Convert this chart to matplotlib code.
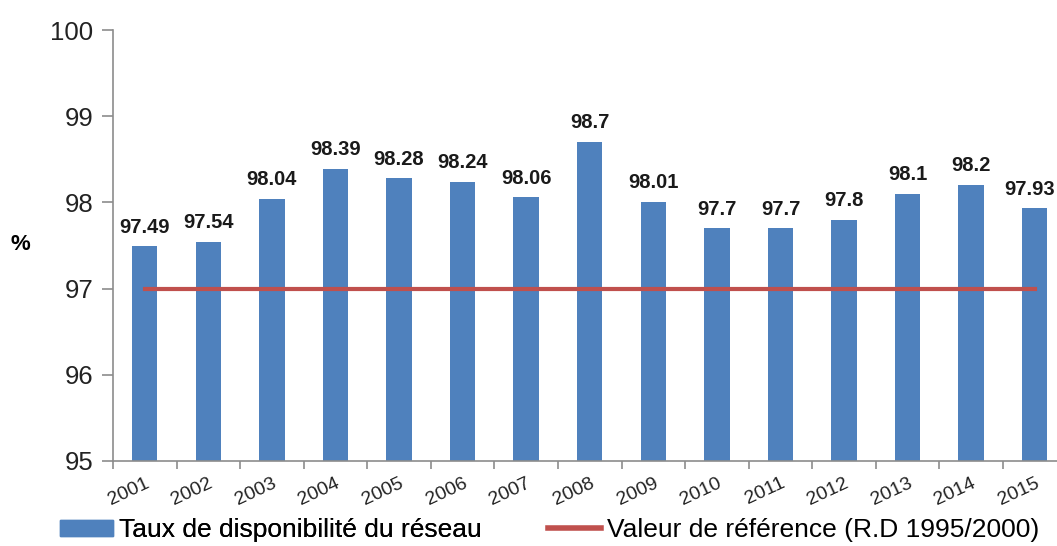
import numpy as np
import matplotlib
matplotlib.use("Agg")
import matplotlib.pyplot as plt
from matplotlib.patches import Patch
from matplotlib.lines import Line2D

plt.rcParams["font.family"] = ["Liberation Sans", "DejaVu Sans"]

years = ["2001", "2002", "2003", "2004", "2005", "2006", "2007", "2008",
         "2009", "2010", "2011", "2012", "2013", "2014", "2015"]
availability = [97.49, 97.54, 98.04, 98.39, 98.28, 98.24, 98.06, 98.7,
                98.01, 97.7, 97.7, 97.8, 98.1, 98.2, 97.93]
labels = ["97.49", "97.54", "98.04", "98.39", "98.28", "98.24", "98.06", "98.7",
          "98.01", "97.7", "97.7", "97.8", "98.1", "98.2", "97.93"]
reference = [97] * len(years)

blue = "#4F81BD"
red = "#C0504D"
grey = "#8C8C8C"

W, H = 1057, 546
fig = plt.figure(figsize=(W / 100, H / 100), dpi=100)
ax = fig.add_axes([113 / W, 1 - 461 / H, 944 / W, 431 / H])

ind = np.arange(len(years))
ax.bar(ind, np.array(availability) - 95, width=0.4, bottom=95, color=blue, zorder=2)
ax.plot(ind, reference, color=red, linewidth=3, zorder=3)

for i, (x, v, s) in enumerate(zip(ind, availability, labels)):
    # keep the last label inside the picture, as the spreadsheet does
    dx = -4 if i == len(ind) - 1 else 0
    ax.annotate(s, (x, v), xytext=(dx, 7), textcoords="offset points",
                ha="center", va="bottom", fontsize=14.5,
                fontweight="bold", color="#1a1a1a")

ax.set_xlim(-0.5, 14.35)
ax.set_ylim(95, 100)
ax.set_yticks([95, 96, 97, 98, 99, 100])
ax.tick_params(axis="y", labelsize=18.5, colors=grey, labelcolor="#222222",
               length=8, width=1.2, pad=6)

# ticks between categories, labels under the bars
ax.set_xticks(np.arange(-0.5, 14.5, 1.0))
ax.set_xticklabels([])
ax.set_xticks(ind, minor=True)
ax.set_xticklabels(years, minor=True, rotation=25, fontsize=14, color="#222222",
                   ha="right", va="top", rotation_mode="anchor")
ax.tick_params(axis="x", which="major", length=6, width=1.2, colors=grey)
ax.tick_params(axis="x", which="minor", length=0, pad=10)

for side in ["top", "right"]:
    ax.spines[side].set_visible(False)
for side in ["left", "bottom"]:
    ax.spines[side].set_color(grey)
    ax.spines[side].set_linewidth(1.2)

fig.text(20 / W, 1 - 245 / H, "%", fontsize=16, fontweight="bold",
         ha="center", va="center")

leg_kw = dict(loc="center left", frameon=False, fontsize=19, handlelength=2.0,
              handleheight=0.55, handletextpad=0.25, borderpad=0, borderaxespad=0)
leg1 = fig.legend([Patch(facecolor=blue, edgecolor=blue)],
                  ["Taux de disponibilité du réseau"],
                  bbox_to_anchor=(60 / W, 1 - 530 / H), **leg_kw)
fig.add_artist(leg1)
fig.legend([Line2D([0], [0], color=red, linewidth=4)],
           ["Valeur de référence (R.D 1995/2000)"],
           bbox_to_anchor=(548 / W, 1 - 530 / H), **leg_kw)

plt.savefig("out.png", dpi=100)
